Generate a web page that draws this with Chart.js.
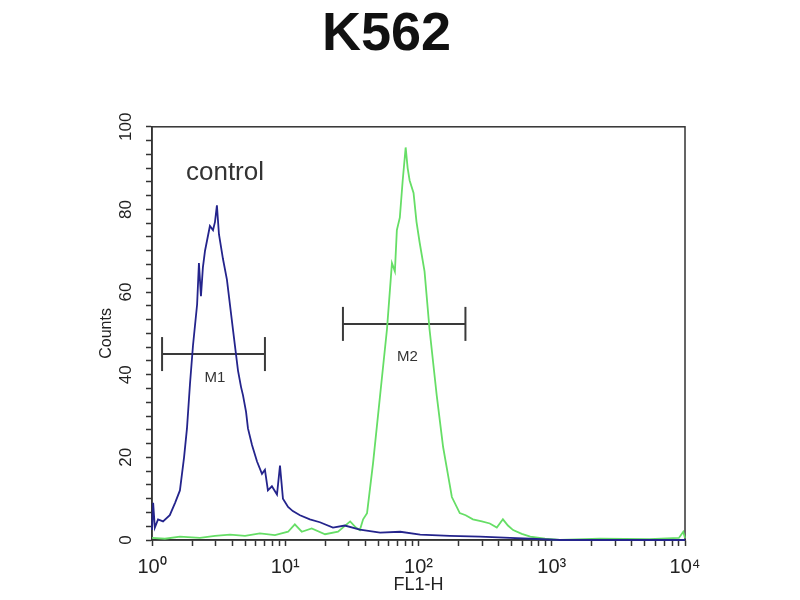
<!DOCTYPE html>
<html>
<head>
<meta charset="utf-8">
<script src="https://cdn.jsdelivr.net/npm/chart.js@4.4.1/dist/chart.umd.min.js"></script>
<style>
    html, body { margin: 0; padding: 0; background: #ffffff; }
    #wrap { width: 800px; height: 600px; }
</style>
</head>
<body>
<div id="wrap"><canvas id="chart" width="800" height="600"></canvas></div>
<script>
// FL1-H channel values and counts
const controlX = [1.0, 1.02, 1.05, 1.11, 1.21, 1.36, 1.49, 1.62, 1.74, 1.83, 1.93, 2.03, 2.18, 2.25, 2.33, 2.41, 2.5, 2.72, 2.87, 2.97,
    3.07, 3.18, 3.41, 3.65, 4.05, 4.42, 4.66, 4.82, 5.08, 5.25, 5.63, 6.14, 6.69, 7.04, 7.41, 7.94, 8.67, 9.13, 9.61, 10.5,
    11.4, 12.9, 15.3, 18.2, 22.8, 28, 36.3, 51.5, 73, 103, 172, 290, 487, 690, 1150, 10000];
const controlY = [2.4, 9, 3, 5, 4.5, 6, 9, 12, 20, 27, 38, 47, 57, 67, 59, 66, 70, 76, 75, 77,
    81, 74, 68, 63, 51, 41, 37, 35, 31, 27, 23, 19, 16, 17, 12, 13, 11, 18, 10, 8,
    7, 6, 5, 4.3, 3, 3.5, 2.5, 1.8, 2, 1.3, 1, 0.8, 0.5, 0.3, 0, 0];

const sampleX = [1.0, 1.25, 1.62, 2.29, 2.97, 3.85, 4.99, 6.45, 8.37, 10.5, 11.8, 13.3, 15.8, 19.9, 24.9, 30.7, 33.9, 36.3,
    38.4, 41.1, 45.6, 51.5, 58, 63.2, 66.5, 68.8, 72.4, 76.1, 80.1, 82.9, 85.8, 91.8, 96.6, 102, 111, 121, 137, 153,
    166, 178, 204, 226, 256, 299, 343, 387, 430, 469, 513, 596, 690, 890, 1150, 2300, 5400, 9000, 9700, 10000];
const sampleY = [0.5, 0.3, 0.8, 0.5, 1, 1.3, 1, 1.6, 1.2, 2, 3.8, 2, 2.8, 1.4, 2, 4.5, 3, 2.4,
    5, 6.5, 18.6, 35, 51, 67, 65, 75, 78, 87, 95, 90, 87, 84, 77, 72, 65, 51, 35, 22.5,
    16, 10.4, 6.5, 6, 5, 4.5, 4, 3, 5, 3.5, 2.4, 1.5, 0.8, 0.3, 0, 0.3, 0.2, 0.5, 2, 0.5];

// marker gates M1 / M2: [start, end] on FL1-H, height in counts
const gateNames = ['M1', 'M2'];
const gateRanges = [[1.19, 7.04], [27.1, 225]];
const gateLevels = [45, 52.3];

// text placed in data coordinates
const noteTexts = ['control', 'M1', 'M2'];
const noteX = [3.53, 2.97, 82.5];
const noteY = [88.9, 39.2, 44.3];
const noteSizes = [26, 15, 15];

// axis ticks
const xDecades = [1, 10, 100, 1000, 10000];
const xTickLabels = ['10⁰', '10¹', '10²', '10³', '10⁴'];
const yLabelStep = 20;
const yMinorStep = 20 / 6;

const toPoints = (xs, ys) => xs.map((x, i) => ({ x, y: ys[i] }));

const xTickValues = [];
xDecades.slice(0, -1).forEach(d => {
    for (let m = 1; m <= 9; m++) xTickValues.push(m * d);
});
xTickValues.push(xDecades[xDecades.length - 1]);

const gateSets = gateNames.map((name, i) => ({
    label: name,
    data: [{ x: gateRanges[i][0], y: gateLevels[i] }, { x: gateRanges[i][1], y: gateLevels[i] }],
    borderColor: '#3a3a3a',
    borderWidth: 2,
    pointStyle: 'line',
    pointRotation: 90,
    pointRadius: 17,
    pointBorderColor: '#3a3a3a',
    pointBorderWidth: 2
}));

// frame round the plot and text labels
const framePlugin = {
    id: 'frame',
    beforeDatasetsDraw(chart) {
        const { ctx, chartArea: a } = chart;
        ctx.save();
        ctx.strokeStyle = '#333333';
        ctx.lineWidth = 1.5;
        ctx.strokeRect(a.left, a.top, a.right - a.left, a.bottom - a.top);
        ctx.restore();
    },
    afterDatasetsDraw(chart) {
        const { ctx, scales } = chart;
        ctx.save();
        ctx.fillStyle = '#333333';
        ctx.textAlign = 'center';
        ctx.textBaseline = 'middle';
        noteTexts.forEach((t, i) => {
            ctx.font = noteSizes[i] + 'px "Liberation Sans", Arial, sans-serif';
            ctx.fillText(t, scales.x.getPixelForValue(noteX[i]), scales.y.getPixelForValue(noteY[i]));
        });
        ctx.restore();
    }
};

Chart.defaults.font.family = '"Liberation Sans", Arial, sans-serif';
Chart.defaults.color = '#222222';

new Chart(document.getElementById('chart'), {
    type: 'line',
    data: {
        datasets: [
            {
                label: 'control',
                data: toPoints(controlX, controlY),
                borderColor: '#24248c',
                borderWidth: 1.8,
                pointRadius: 0,
                tension: 0
            },
            {
                label: 'K562',
                data: toPoints(sampleX, sampleY),
                borderColor: '#66de66',
                borderWidth: 1.8,
                pointRadius: 0,
                tension: 0
            },
            ...gateSets
        ]
    },
    options: {
        responsive: false,
        animation: false,
        clip: false,
        layout: {
            padding: { left: 88, right: 115, top: 0, bottom: 0 }
        },
        plugins: {
            legend: { display: false },
            tooltip: { enabled: false },
            title: {
                display: true,
                text: 'K562',
                color: '#111111',
                font: { size: 54, weight: 'bold' },
                padding: { top: 3, bottom: 59 }
            }
        },
        scales: {
            x: {
                type: 'logarithmic',
                min: 1,
                max: 10000,
                afterBuildTicks: axis => {
                    axis.ticks = xTickValues.map(v => ({ value: v }));
                },
                afterFit: axis => { axis.height = 60; },
                border: { display: true, color: '#333333', width: 1.5 },
                grid: { drawOnChartArea: false, drawTicks: true, tickLength: 6, tickColor: '#333333', tickWidth: 1.5 },
                ticks: {
                    autoSkip: false,
                    maxRotation: 0,
                    padding: 9,
                    font: { size: 20 },
                    callback: value => {
                        const i = xDecades.indexOf(value);
                        return i >= 0 ? xTickLabels[i] : '';
                    }
                },
                title: {
                    display: true,
                    text: 'FL1-H',
                    font: { size: 18 },
                    padding: { top: 0, bottom: 4 }
                }
            },
            y: {
                min: 0,
                max: 100,
                afterFit: axis => { axis.width = 64; },
                border: { display: true, color: '#333333', width: 1.5 },
                grid: { drawOnChartArea: false, drawTicks: true, tickLength: 6, tickColor: '#333333', tickWidth: 1.5 },
                ticks: {
                    stepSize: yMinorStep,
                    autoSkip: false,
                    minRotation: 90,
                    maxRotation: 90,
                    crossAlign: 'center',
                    padding: 6,
                    font: { size: 17 },
                    callback: value => {
                        const r = value / yLabelStep;
                        return Math.abs(r - Math.round(r)) < 0.001 ? String(Math.round(value)) : '';
                    }
                },
                title: {
                    display: true,
                    text: 'Counts',
                    font: { size: 16 },
                    padding: { top: 9, bottom: 0 }
                }
            }
        }
    },
    plugins: [framePlugin]
});
</script>
</body>
</html>
